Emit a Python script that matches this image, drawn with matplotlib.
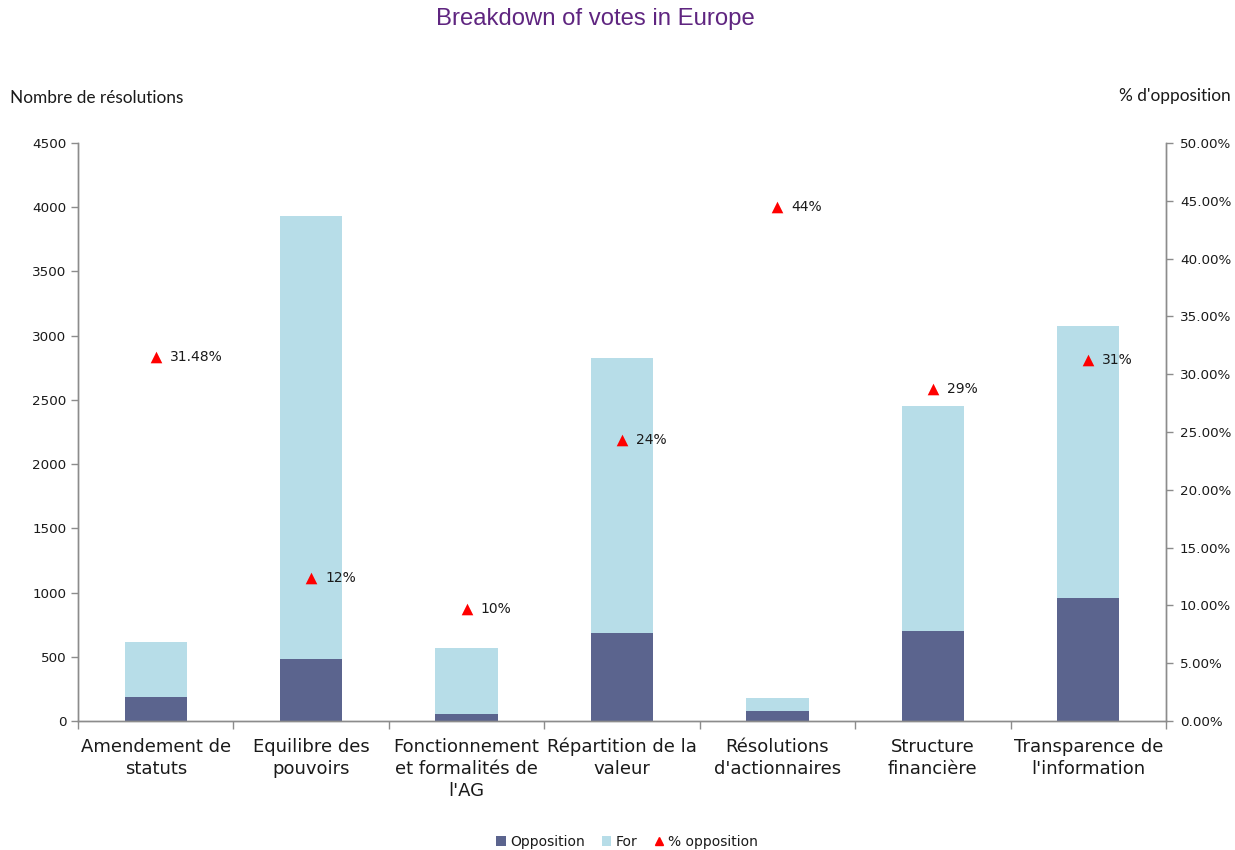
import matplotlib
matplotlib.use("Agg")
import matplotlib.pyplot as plt
from matplotlib import font_manager
from matplotlib.lines import Line2D
from matplotlib.patches import Patch
from matplotlib.ticker import FuncFormatter, FixedLocator
import numpy as np

# Resolution categories and vote counts
categories = [
    "Amendement de\nstatuts",
    "Equilibre des\npouvoirs",
    "Fonctionnement\net formalités de\nl'AG",
    "Répartition de la\nvaleur",
    "Résolutions\nd'actionnaires",
    "Structure\nfinancière",
    "Transparence de\nl'information",
]
opposition = [187, 483, 55, 685, 78, 701, 958]
total = [615, 3932, 568, 2826, 179, 2453, 3075]
for_votes = [t - o for t, o in zip(total, opposition)]

# Share of opposition per category and the decimals shown in its label
pct_opposition = [0.3148, 0.124, 0.097, 0.243, 0.445, 0.287, 0.312]
pct_decimals = [2, 0, 0, 0, 0, 0, 0]

c_opp = "#5B648E"
c_for = "#B7DDE8"
c_axis = "#8C8C8C"
txt = "#1A1A1A"


def regular_font(name):
    """Pick the plain (non-narrow, non-bold) face of a family if available."""
    for f in font_manager.fontManager.ttflist:
        if f.name == name and f.style == "normal" and f.weight in (400, "normal") \
                and "Narrow" not in f.fname:
            return font_manager.FontProperties(fname=f.fname)
    return font_manager.FontProperties(family=name)


title_font = regular_font("Liberation Sans")
title_font.set_size(17.2)

fig = plt.figure(figsize=(12.35, 8.5), dpi=100)
ax = fig.add_axes([78 / 1235, 1 - 721 / 850, (1166 - 78) / 1235, (721 - 143) / 850])
ax2 = ax.twinx()

x = np.arange(len(categories))
w = 0.4
ax.bar(x, opposition, width=w, color=c_opp, zorder=2)
ax.bar(x, for_votes, width=w, bottom=opposition, color=c_for, zorder=2)

ax.set_xlim(-0.5, len(categories) - 0.5)
ax.set_ylim(0, 4500)
ax.set_yticks(np.arange(0, 4501, 500))
ax.set_xticks(x)
ax.set_xticklabels(categories, fontsize=13, color=txt, family="DejaVu Sans",
                   linespacing=1.3)
ax.tick_params(axis="x", length=0, pad=12)
ax.xaxis.set_minor_locator(FixedLocator(np.arange(-0.5, len(categories), 1.0)))
ax.tick_params(axis="x", which="minor", length=6, width=1, color=c_axis)
ax.tick_params(axis="y", length=5, width=1, color=c_axis, labelsize=9.7,
               labelcolor=txt, pad=3.5)

ax2.set_ylim(0, 0.5)
ax2.set_yticks(np.arange(0, 0.501, 0.05))
ax2.yaxis.set_major_formatter(FuncFormatter(lambda v, p: f"{v * 100:.2f}%"))
ax2.tick_params(axis="y", length=5, width=1, color=c_axis, labelsize=9.7,
                labelcolor=txt, pad=5)

for a in (ax, ax2):
    a.spines["top"].set_visible(False)
    for s in ("left", "right", "bottom"):
        a.spines[s].set_color(c_axis)
        a.spines[s].set_linewidth(1)

# Opposition share markers and labels
ax2.scatter(x, pct_opposition, marker="^", s=70, color="#FF0000", zorder=4,
            linewidths=0)
for xi, p, d in zip(x, pct_opposition, pct_decimals):
    ax2.annotate(f"{p * 100:.{d}f}%", (xi, p), xytext=(10, 0),
                 textcoords="offset points", va="center", ha="left",
                 fontsize=10, color=txt)

fig.text(595 / 1235, 1 - 19 / 850, "Breakdown of votes in Europe",
         ha="center", va="center", color="#5F2580", fontproperties=title_font)
fig.text(10 / 1235, 1 - 98 / 850, "Nombre de résolutions", ha="left",
         va="center", fontsize=12.4, color=txt, family="Lato")
fig.text(1231 / 1235, 1 - 96 / 850, "% d'opposition", ha="right",
         va="center", fontsize=12.4, color=txt, family="Lato")

handles = [
    Patch(facecolor=c_opp, edgecolor="none"),
    Patch(facecolor=c_for, edgecolor="none"),
    Line2D([], [], marker="^", color="#FF0000", linestyle="none", markersize=6),
]
fig.legend(handles, ["Opposition", "For", "% opposition"],
           loc="center", bbox_to_anchor=(627 / 1235, 1 - 842 / 850), ncol=3,
           frameon=False, fontsize=10, handlelength=0.7, handleheight=0.7,
           handletextpad=0.3, columnspacing=1.2, labelcolor=txt)

fig.savefig("out.png", dpi=100, facecolor="white")
